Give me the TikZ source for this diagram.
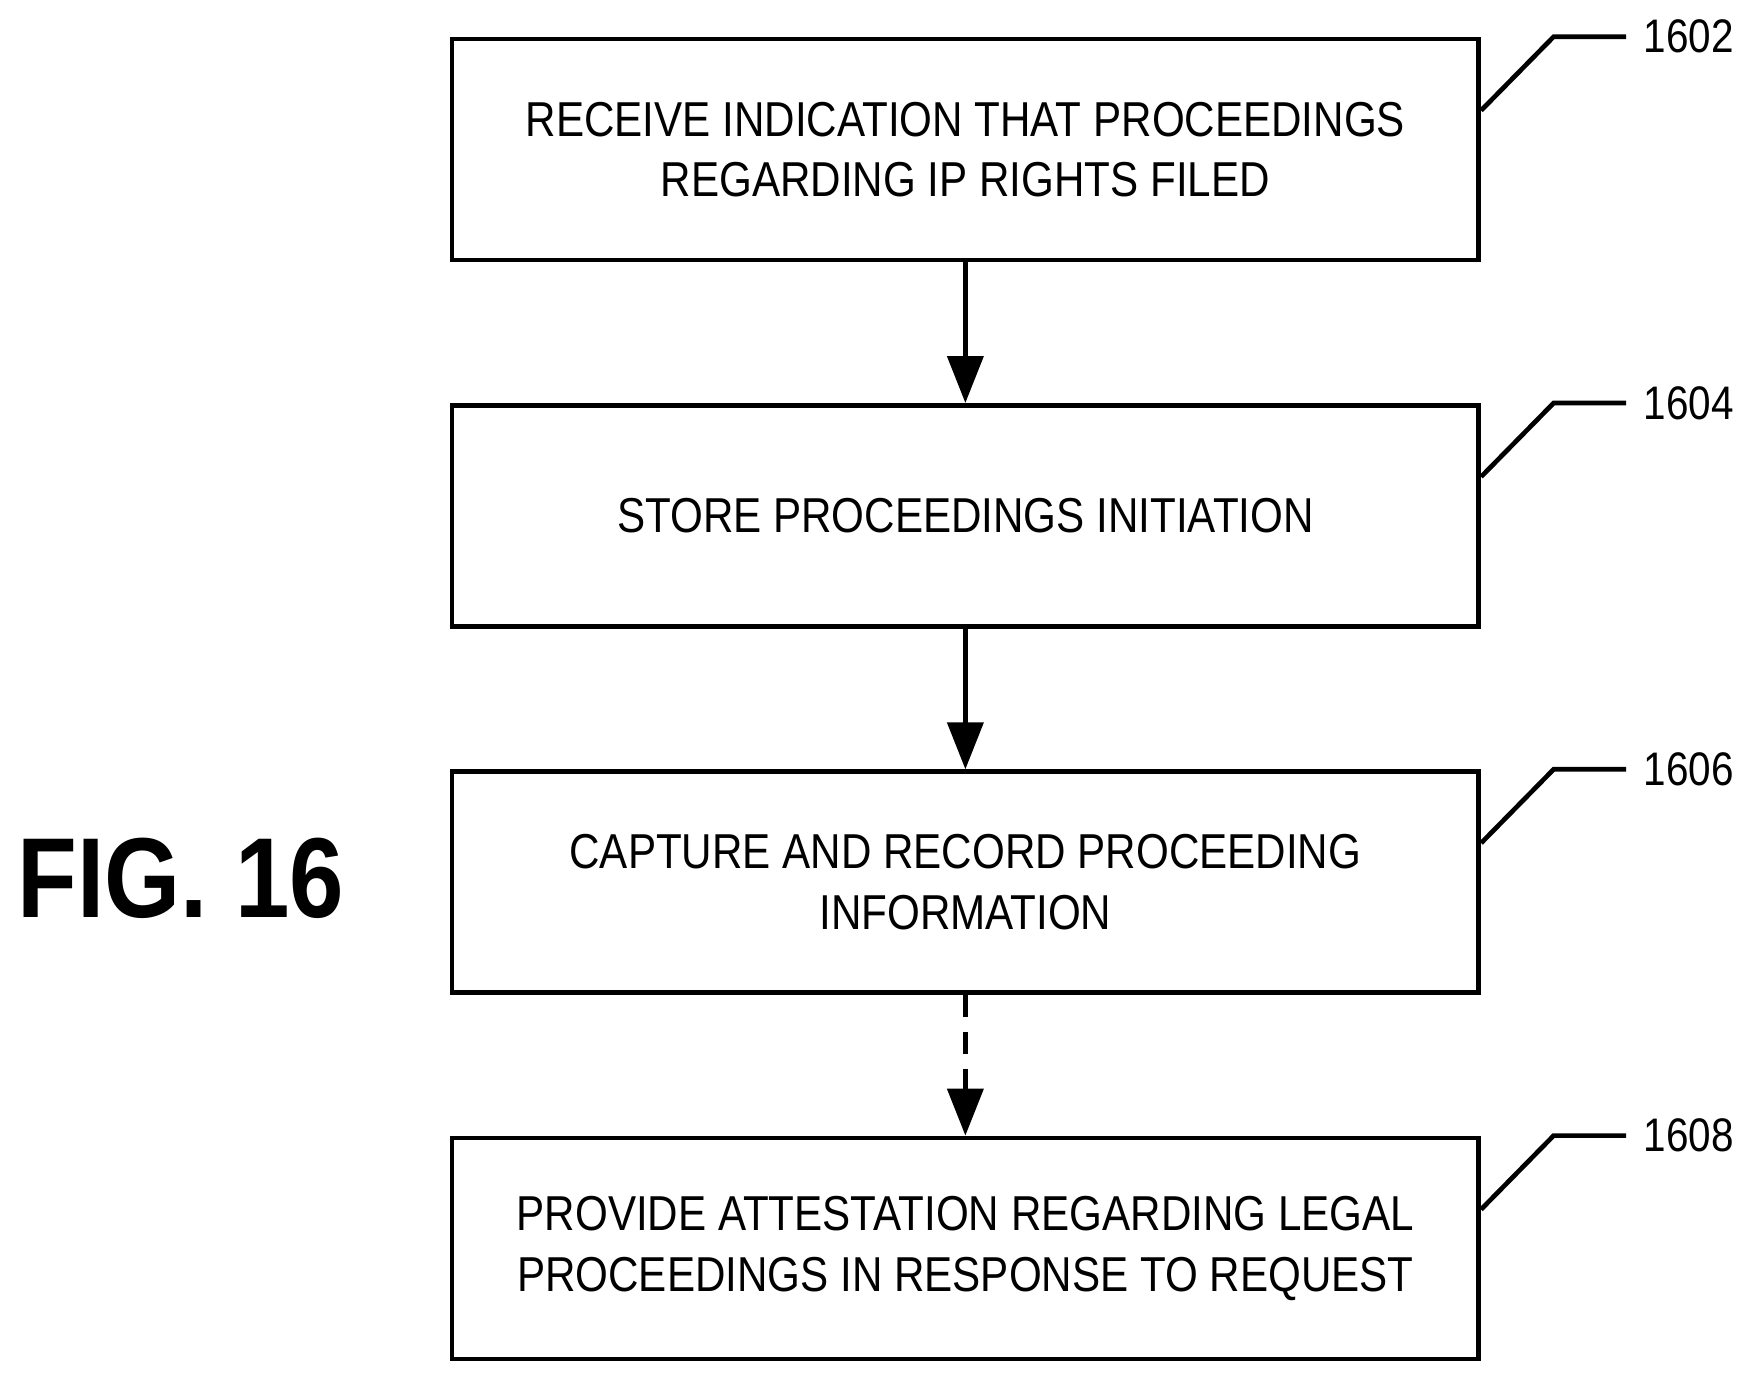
\documentclass[tikz,border=0pt]{standalone}
\usepackage{fontspec}
\setmainfont[FakeStretch=0.86]{Liberation Sans}
\usetikzlibrary{positioning,arrows.meta}
\tikzstyle{stepbox} = [rectangle, minimum width=9.2cm, minimum height=1.98cm, align=center, draw=black, line width=1.2pt, font=\fontsize{12.5}{15.5}\selectfont]
\tikzstyle{arrow} = [line width=1.2pt,-{Triangle[length=0.42cm,width=0.32cm]}]
\tikzstyle{lead} = [line width=1.2pt]
\tikzstyle{num} = [anchor=west, inner sep=0pt, font=\fontsize{12}{14}\selectfont]
\begin{document}
\begin{tikzpicture}
  \useasboundingbox (0,0) rectangle (15.6,-12.33);
  \node [stepbox] (s1) at (8.65,-1.34) {RECEIVE INDICATION THAT PROCEEDINGS\\REGARDING IP RIGHTS FILED};
  \node [stepbox, below=1.26cm of s1] (s2) {STORE PROCEEDINGS INITIATION};
  \node [stepbox, below=1.26cm of s2] (s3) {CAPTURE AND RECORD PROCEEDING\\INFORMATION};
  \node [stepbox, below=1.26cm of s3] (s4) {PROVIDE ATTESTATION REGARDING LEGAL\\PROCEEDINGS IN RESPONSE TO REQUEST};
  \draw [arrow] (s1) -- (s2);
  \draw [arrow] (s2) -- (s3);
  \draw [arrow, dash pattern=on 0.2cm off 0.13cm] (s3) -- (s4);
  % reference numerals
  \foreach \s/\n in {s1/1602, s2/1604, s3/1606, s4/1608} {
    \coordinate (\s a) at ([yshift=0.35cm]\s.east);
    \coordinate (\s b) at ([xshift=0.65cm]\s.north east);
    \coordinate (\s c) at ([xshift=1.3cm]\s.north east);
    \draw [lead] (\s a) -- (\s b) -- (\s c);
    \node [num] (\s n) at ([xshift=0.15cm]\s c) {\n};
  }
  \node [font=\fontsize{29}{34}\selectfont\bfseries] (fig) at (1.62,-7.87) {FIG. 16};
\end{tikzpicture}
\end{document}
